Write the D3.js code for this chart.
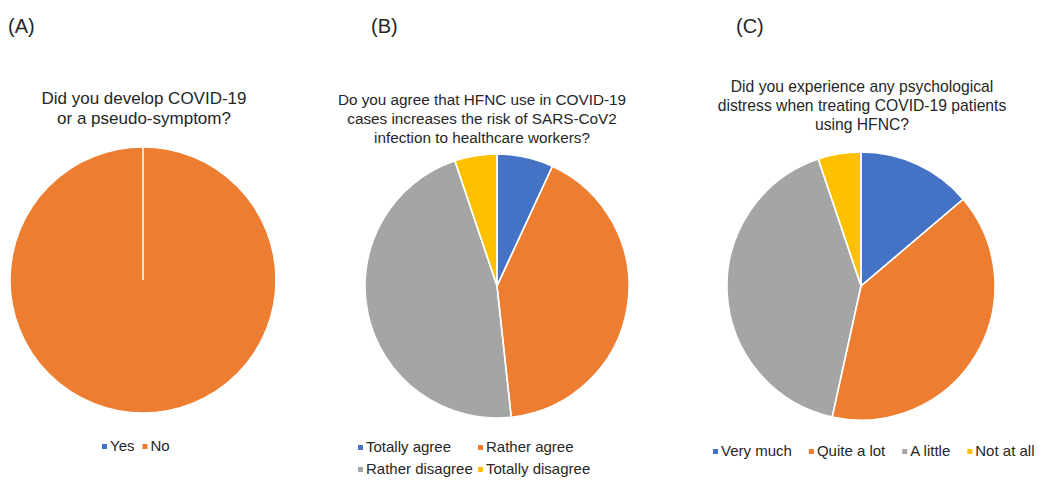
<!DOCTYPE html>
<html>
<head>
<meta charset="utf-8">
<script src="https://cdn.jsdelivr.net/npm/d3@7"></script>
<style>
  body { margin: 0; background: #fff; }
  svg text { font-family: "Liberation Sans", Arial, sans-serif; fill: #262626; }
</style>
</head>
<body>
<svg id="chart" width="1041" height="482"></svg>
<script>
// Survey responses (number of respondents, n = 58)
const panelLabels = ["(A)", "(B)", "(C)"];

const titleA = ["Did you develop COVID-19", "or a pseudo-symptom?"];
const categoriesA = ["Yes", "No"];
const valuesA = [0, 58];

const titleB = ["Do you agree that HFNC use in COVID-19",
                "cases increases the risk of SARS-CoV2",
                "infection to healthcare workers?"];
const categoriesB = ["Totally agree", "Rather agree", "Rather disagree", "Totally disagree"];
const valuesB = [4, 24, 27, 3];

const titleC = ["Did you experience any psychological",
                "distress when treating COVID-19 patients",
                "using HFNC?"];
const categoriesC = ["Very much", "Quite a lot", "A little", "Not at all"];
const valuesC = [8, 23, 24, 3];

const palette = ["#4472C4", "#ED7D31", "#A5A5A5", "#FFC000"];

const svg = d3.select("#chart");

const panels = [
  { label: panelLabels[0], labelX: 8, title: titleA, titleX: 144, titleY: 100, titleSize: 17, lineH: 20,
    cats: categoriesA, vals: valuesA, cx: 143, cy: 280, r: 133,
    legend: { type: "flow", x: 102, y: 447, gap: 8 } },
  { label: panelLabels[1], labelX: 371, title: titleB, titleX: 482, titleY: 101, titleSize: 15.3, lineH: 19,
    cats: categoriesB, vals: valuesB, cx: 497, cy: 286, r: 132,
    legend: { type: "grid", x: 358, y: 448, colW: 120, rowH: 22 } },
  { label: panelLabels[2], labelX: 736, title: titleC, titleX: 862, titleY: 88, titleSize: 15.7, lineH: 19,
    cats: categoriesC, vals: valuesC, cx: 861, cy: 286, r: 134,
    legend: { type: "flow", x: 713, y: 452, gap: 17 } }
];

panels.forEach(p => {
  const g = svg.append("g");

  g.append("text")
    .attr("x", p.labelX).attr("y", 28)
    .attr("dominant-baseline", "middle")
    .style("font-size", "20px")
    .text(p.label);

  g.append("text")
    .attr("text-anchor", "middle")
    .style("font-size", p.titleSize + "px")
    .selectAll("tspan")
    .data(p.title)
    .join("tspan")
    .attr("x", p.titleX)
    .attr("y", (d, j) => p.titleY + j * p.lineH)
    .attr("dominant-baseline", "middle")
    .text(d => d);

  const color = d3.scaleOrdinal().domain(p.cats).range(palette);
  const pie = d3.pie().sort(null).value(d => d.v);
  const arcs = pie(p.cats.map((c, j) => ({ c, v: p.vals[j] })));
  const arc = d3.arc().innerRadius(0).outerRadius(p.r);

  const pg = g.append("g").attr("transform", `translate(${p.cx},${p.cy})`);
  pg.selectAll("path.fill")
    .data(arcs)
    .join("path")
    .attr("class", "fill")
    .attr("d", arc)
    .attr("fill", d => color(d.data.c));
  // slice borders drawn on top so zero-size slices still show their edge
  pg.selectAll("path.edge")
    .data(arcs)
    .join("path")
    .attr("class", "edge")
    .attr("d", arc)
    .attr("fill", "none")
    .attr("stroke", "#fff")
    .attr("stroke-width", 1.5);

  // legend
  const lg = g.append("g").style("font-size", "15px");
  const items = lg.selectAll("g.item")
    .data(p.cats)
    .join("g")
    .attr("class", "item");
  items.append("rect")
    .attr("width", 5).attr("height", 5)
    .attr("y", -3)
    .attr("fill", d => color(d));
  items.append("text")
    .attr("x", 8)
    .attr("dominant-baseline", "middle")
    .text(d => d);

  if (p.legend.type === "grid") {
    items.attr("transform", (d, j) =>
      `translate(${p.legend.x + (j % 2) * p.legend.colW},${p.legend.y + Math.floor(j / 2) * p.legend.rowH})`);
  } else {
    let x = p.legend.x;
    items.each(function () {
      const w = 8 + d3.select(this).select("text").node().getComputedTextLength();
      d3.select(this).attr("transform", `translate(${x},${p.legend.y})`);
      x += w + p.legend.gap;
    });
  }
});
</script>
</body>
</html>
